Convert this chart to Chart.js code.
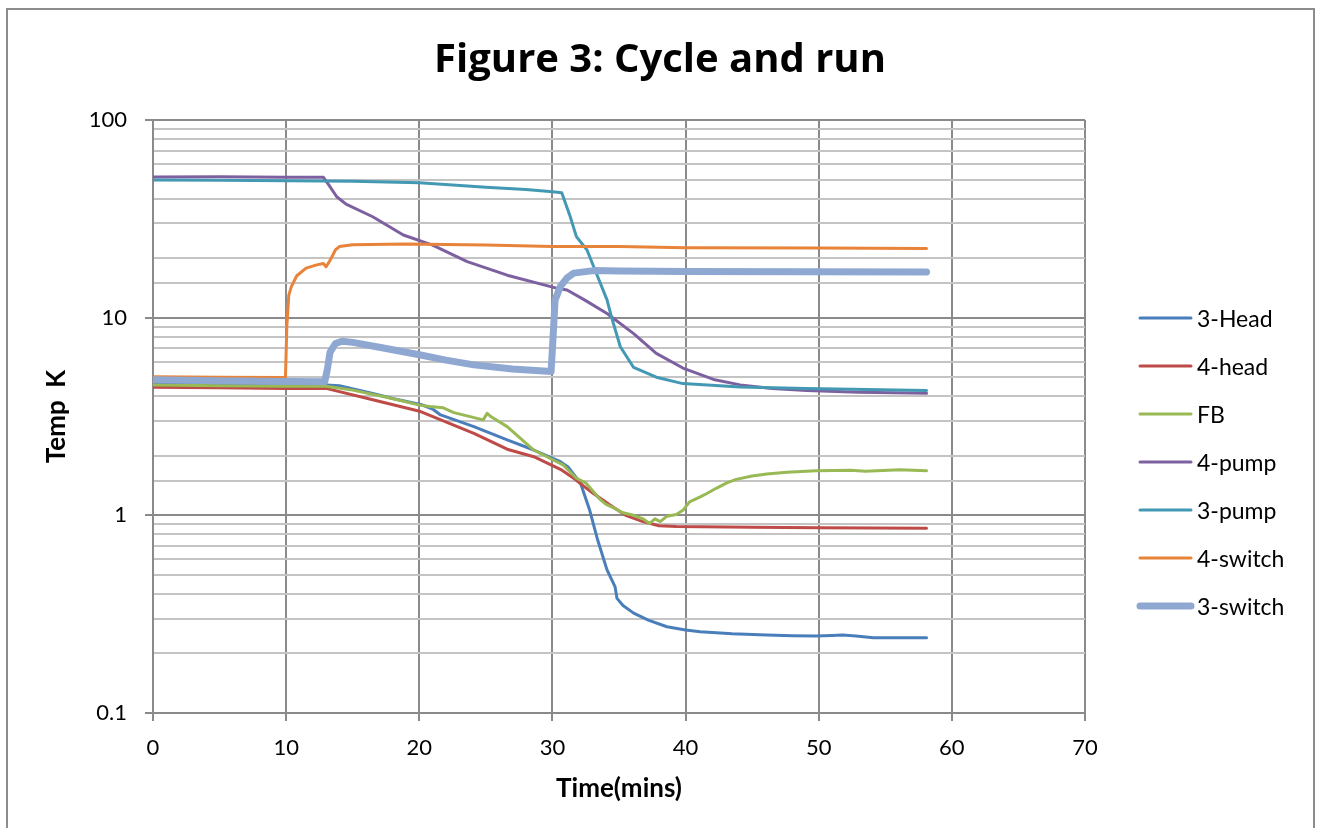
<!DOCTYPE html>
<html>
<head>
<meta charset="utf-8">
<script src="https://cdn.jsdelivr.net/npm/chart.js@4.4.1/dist/chart.umd.min.js"></script>
<style>
  html, body { margin: 0; padding: 0; background: #fff; }
  #wrap { position: relative; width: 1317px; height: 828px; }
</style>
</head>
<body>
<div id="wrap"><canvas id="chart" width="1317" height="828"></canvas></div>
<script>
// Series data: [time (mins), temperature (K)]
const head3 = [[0,4.66],[5,4.62],[10,4.58],[13,4.57],[14,4.52],[16.5,4.14],[18,3.9],[20.1,3.64],[21,3.45],[21.6,3.22],[24.1,2.81],[26.6,2.41],[28.6,2.14],[30.6,1.87],[31.2,1.75],[32.1,1.46],[32.8,1.06],[33.4,0.75],[34.1,0.53],[34.7,0.436],[34.85,0.38],[35.3,0.35],[36.1,0.32],[37.2,0.295],[38.6,0.273],[40,0.263],[41.1,0.258],[43.5,0.252],[46.1,0.248],[48,0.246],[49.8,0.245],[51,0.247],[51.8,0.248],[52.8,0.245],[54.1,0.240],[56,0.240],[58.1,0.240]];
const head4 = [[0,4.45],[5,4.42],[10,4.38],[13,4.39],[16.5,3.84],[20.1,3.35],[24.1,2.6],[26.6,2.16],[28.6,1.98],[30.6,1.71],[31.6,1.54],[33,1.3],[34.3,1.13],[35.5,1.0],[36.8,0.93],[38,0.885],[39.3,0.877],[45,0.87],[50,0.865],[58.1,0.86]];
const fb = [[0,4.57],[5,4.53],[10,4.5],[13,4.5],[15,4.3],[17.8,3.92],[20.1,3.6],[20.8,3.55],[21.8,3.5],[22.6,3.31],[24.8,3.04],[25.1,3.28],[25.4,3.15],[26.6,2.81],[28.6,2.14],[30.1,1.9],[30.8,1.8],[31.8,1.54],[32.5,1.46],[33.6,1.2],[34.0,1.14],[34.6,1.09],[35.3,1.03],[36.1,1.0],[36.8,0.96],[37.3,0.91],[37.7,0.96],[38.1,0.93],[38.6,0.99],[39.3,1.01],[39.8,1.06],[40.3,1.17],[41.1,1.24],[41.6,1.29],[42.3,1.37],[43.1,1.46],[43.8,1.52],[45,1.58],[46.1,1.62],[47.6,1.65],[49.8,1.68],[52.4,1.69],[53.5,1.67],[56.1,1.70],[58.1,1.68]];
const pump4 = [[0,51.5],[5,51.6],[10,51.3],[12.8,51.3],[13.2,47],[13.8,40.9],[14.5,37.5],[16.5,32.4],[18.8,26.2],[21,23.3],[23.6,19.2],[26.6,16.4],[30.3,14.1],[31.1,13.8],[32.5,12.2],[34.1,10.5],[36.1,8.3],[37.8,6.6],[39.8,5.56],[42.1,4.87],[44.1,4.57],[46.5,4.38],[49.1,4.28],[53,4.2],[58.1,4.14]];
const pump3 = [[0,49.7],[5,49.5],[10,49.3],[15,49],[20,48.2],[25,45.7],[28,44.5],[30,43.4],[30.7,42.8],[31.3,33],[31.8,25.7],[32.6,22],[33.1,18.1],[34.1,12.3],[34.45,10],[35.1,7.13],[36.1,5.6],[37.8,5.0],[39.8,4.64],[44.1,4.46],[49.1,4.38],[58.1,4.28]];
const switch4 = [[0,5.03],[5,5.0],[9.95,4.98],[10.05,9],[10.2,13],[10.4,14.4],[10.8,16.3],[11.5,17.8],[12.3,18.5],[12.8,18.8],[13.0,18.1],[13.3,19.5],[13.7,22],[14.0,22.9],[15,23.4],[19,23.6],[25,23.3],[30,22.9],[35,22.9],[40,22.6],[50,22.5],[58.1,22.4]];
const switch3 = [[0,4.85],[5,4.8],[10,4.76],[12.9,4.74],[13.1,5.5],[13.3,6.7],[13.7,7.4],[14.2,7.6],[15,7.5],[17,7.08],[20.1,6.47],[22,6.1],[24.1,5.77],[27,5.5],[29.9,5.34],[30.05,8],[30.2,12.3],[30.6,14.4],[31.1,15.9],[31.6,16.8],[33.1,17.3],[35,17.2],[40,17.1],[58.1,17.0]];

const seriesNames = ["3-Head", "4-head", "FB", "4-pump", "3-pump", "4-switch", "3-switch"];
const seriesData = [head3, head4, fb, pump4, pump3, switch4, switch3];
const seriesColors = ["#4A7EBB", "#BE4B48", "#98B954", "#7D60A0", "#4399B3", "#E8833A", "#8FA8D2"];
const seriesWidths = [3, 3, 3, 3, 3, 3, 7];
const xTicks = [0, 10, 20, 30, 40, 50, 60, 70];
const yMajor = [0.1, 1, 10, 100];

const FONT = "Lato, 'Open Sans', sans-serif";
const MAJOR_GRID = "#8a8a8a";
const MINOR_GRID = "#c4c4c4";

const isMajor = v => yMajor.some(m => Math.abs(m - v) < m * 1e-6);

// Title, legend and outer frame drawn on the canvas
const decor = {
  id: "decor",
  afterDraw(chart) {
    const ctx = chart.ctx;
    ctx.save();
    ctx.strokeStyle = "#8c8c8c";
    ctx.lineWidth = 2;
    ctx.beginPath();
    ctx.moveTo(7, 900); ctx.lineTo(7, 9); ctx.lineTo(1314, 9); ctx.lineTo(1314, 900);
    ctx.stroke();

    ctx.fillStyle = "#000";
    ctx.font = "bold 40px 'Open Sans', Lato, sans-serif";
    ctx.textAlign = "center";
    ctx.textBaseline = "alphabetic";
    ctx.fillText("Figure 3: Cycle and run", 660, 72);

    ctx.font = "23px " + FONT;
    ctx.textAlign = "left";
    chart.data.datasets.forEach((ds, i) => {
      const y = 318 + i * 48;
      ctx.strokeStyle = ds.borderColor;
      ctx.lineWidth = ds.borderWidth;
      ctx.lineCap = "round";
      ctx.beginPath();
      ctx.moveTo(1140, y); ctx.lineTo(1191, y);
      ctx.stroke();
      ctx.fillText(ds.label, 1197, y + 8.5);
    });
    ctx.restore();
  }
};

new Chart(document.getElementById("chart"), {
  type: "line",
  data: {
    datasets: seriesNames.map((name, i) => ({
      label: name,
      data: seriesData[i].map(p => ({ x: p[0], y: p[1] })),
      borderColor: seriesColors[i],
      backgroundColor: seriesColors[i],
      borderWidth: seriesWidths[i],
      pointRadius: 0,
      tension: 0,
      borderJoinStyle: "round",
      borderCapStyle: "round",
      order: seriesNames.length - i
    }))
  },
  options: {
    responsive: false,
    devicePixelRatio: 1,
    animation: false,
    layout: { padding: { top: 120, right: 232, left: 0, bottom: 0 } },
    plugins: { legend: { display: false }, title: { display: false }, tooltip: { enabled: false } },
    scales: {
      x: {
        type: "linear",
        min: 0, max: 70,
        afterBuildTicks: s => { s.ticks = xTicks.map(v => ({ value: v })); },
        afterFit: s => { s.height = 115; },
        grid: { color: MAJOR_GRID, lineWidth: 2, tickLength: 8, tickColor: MAJOR_GRID },
        border: { color: MAJOR_GRID, width: 2 },
        ticks: { color: "#000", font: { family: FONT, size: 22 }, padding: 14, maxRotation: 0 },
        title: { display: true, text: "Time(mins)", color: "#000", font: { family: FONT, size: 26, weight: "bold" }, padding: { bottom: 24 } }
      },
      y: {
        type: "logarithmic",
        min: 0.1, max: 100,
        afterFit: s => { s.width = 153; },
        grid: {
          color: c => isMajor(c.tick.value) ? MAJOR_GRID : MINOR_GRID,
          tickColor: c => isMajor(c.tick.value) ? MAJOR_GRID : "rgba(0,0,0,0)",
          lineWidth: 2, tickLength: 8
        },
        border: { color: MAJOR_GRID, width: 2 },
        ticks: {
          autoSkip: false,
          color: "#000", font: { family: FONT, size: 22 }, padding: 18,
          callback: v => isMajor(v) ? String(yMajor.find(m => Math.abs(m - v) < m * 1e-6)) : ""
        },
        title: { display: true, text: "Temp  K", color: "#000", font: { family: FONT, size: 26, weight: "bold" }, padding: { top: 41 } }
      }
    }
  },
  plugins: [decor]
});
</script>
</body>
</html>
